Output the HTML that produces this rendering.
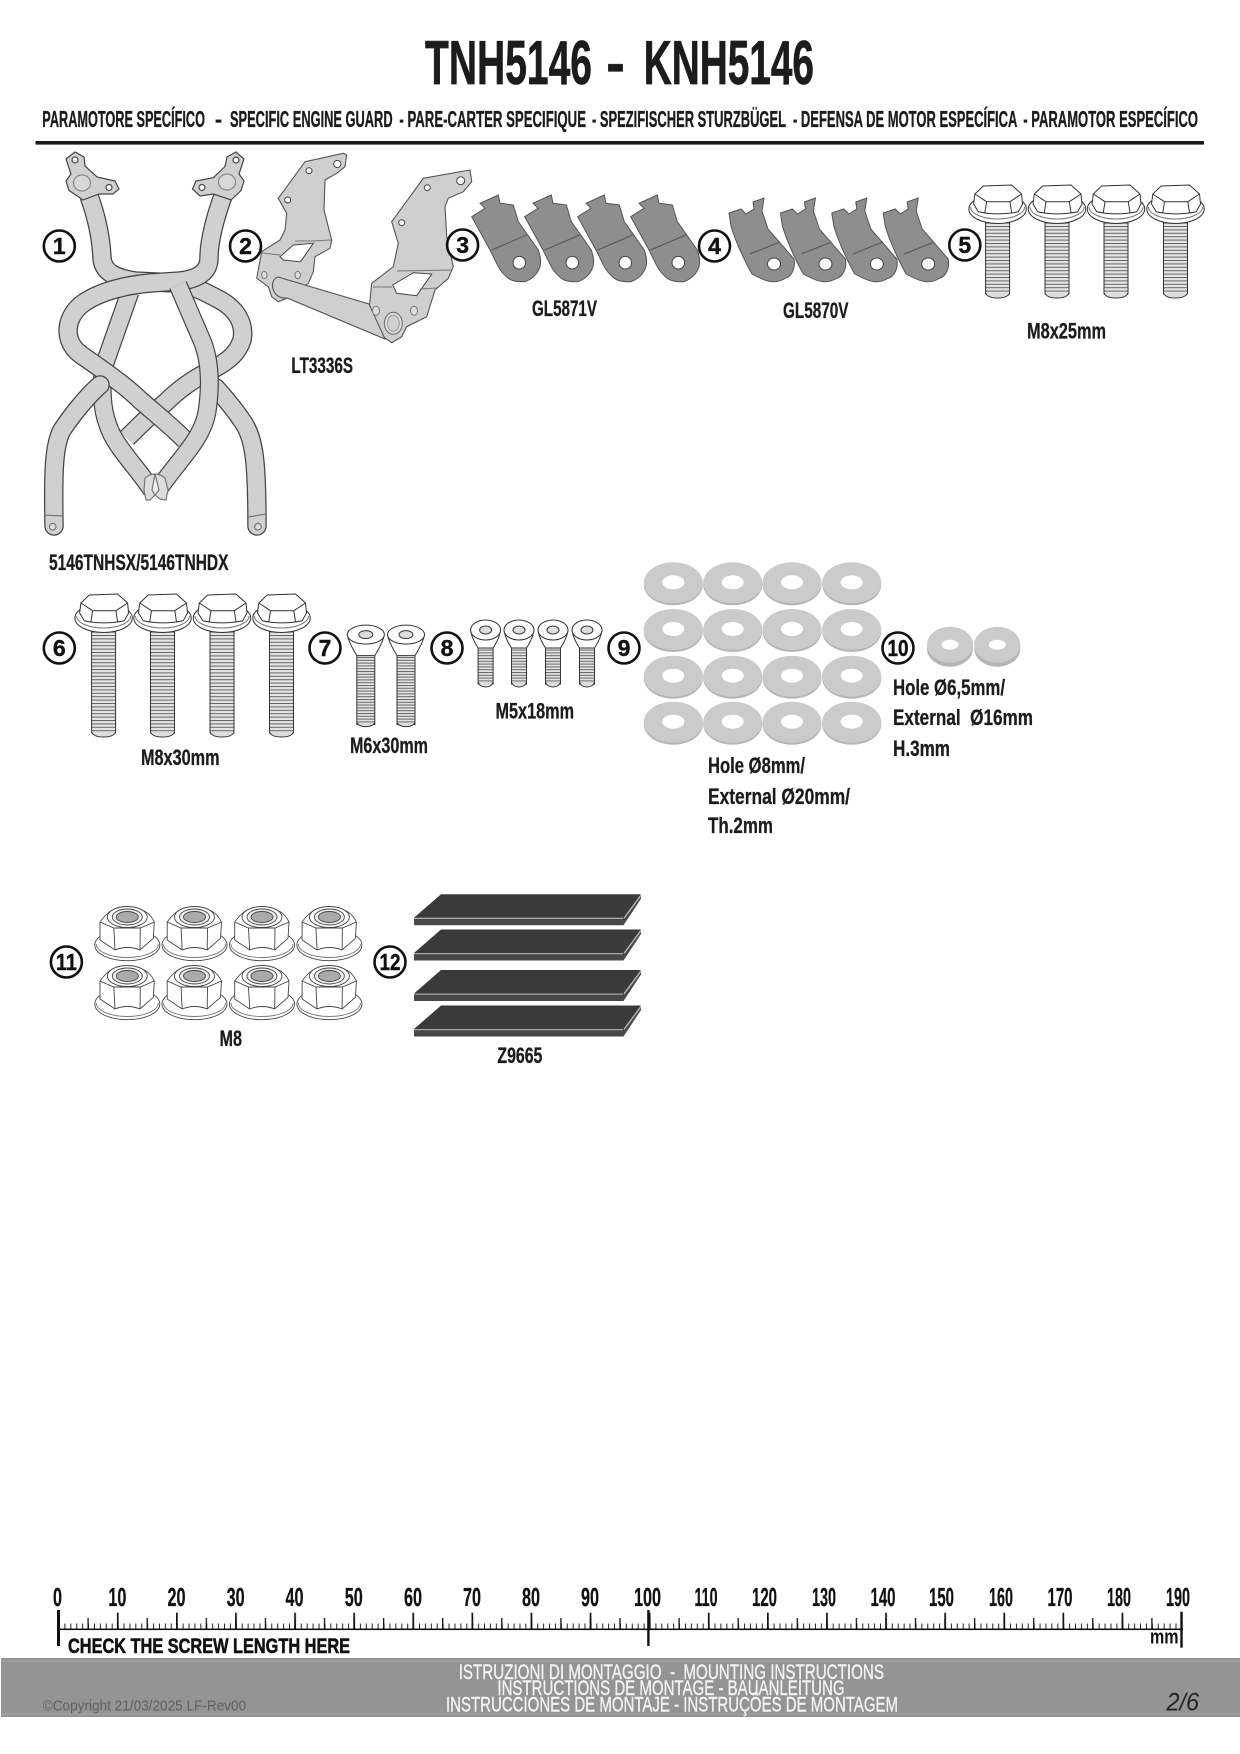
<!DOCTYPE html>
<html><head><meta charset="utf-8"><style>
html,body{margin:0;padding:0;background:#fff}
svg{display:block}
text{font-family:"Liberation Sans",sans-serif}
.b{font-weight:700;fill:#1c1c1c;stroke:#1c1c1c;stroke-width:.35}
.l{font-weight:700;font-size:22px;fill:#1c1c1c;stroke:#1c1c1c;stroke-width:.3}
.n{font-weight:700;font-size:23px;fill:#111;text-anchor:middle;stroke:#111;stroke-width:.4}
.r{font-weight:700;font-size:26px;fill:#111;text-anchor:middle;stroke:#111;stroke-width:.3}
.w{font-size:21px;fill:#f2f2f2;stroke:#f2f2f2;stroke-width:.4}
</style></head><body>
<svg xmlns="http://www.w3.org/2000/svg" width="1240" height="1754" viewBox="0 0 1240 1754">
<defs>
<pattern id="th" width="10" height="3.4" patternUnits="userSpaceOnUse"><rect width="10" height="3.4" fill="#e4e4e4"/><rect y="0" width="10" height="1" fill="#666"/></pattern>
<pattern id="th2" width="10" height="2.8" patternUnits="userSpaceOnUse"><rect width="10" height="2.8" fill="#e4e4e4"/><rect y="0" width="10" height="1" fill="#666"/></pattern>
<pattern id="m1" x="58.5" width="5.91" height="40" patternUnits="userSpaceOnUse"><rect width="1" height="40" fill="#222"/></pattern>
<pattern id="m5" x="57.9" width="29.55" height="40" patternUnits="userSpaceOnUse"><rect width="1.3" height="40" fill="#111"/></pattern>
<pattern id="m10" x="57.8" width="59.1" height="40" patternUnits="userSpaceOnUse"><rect width="1.7" height="40" fill="#111"/></pattern>

<g id="boltHead" fill="#fff" stroke="#333" stroke-width="1">
<ellipse cx="0" cy="0" rx="28.7" ry="14.5"/>
<path d="M-27-2A27 12 0 0 0 27-2" fill="none" stroke="#777"/>
<path d="M-22.7-15-14.3-23 14-24 24-15 25-5 20.7 2.7Q0 7-19.3 2.7L-24-5Z"/>
<path d="M-22.7-15-11-7.3 12.3-7.3 24-15M-11-7.3-12.7 3.7M12.3-7.3 14 3.7" fill="none"/>
</g>
<g id="b25"><rect x="-12" y="12" width="24" height="74" rx="2" fill="url(#th)" stroke="#333"/><path d="M-12 84Q-10 89 0 89Q10 89 12 84" fill="#ddd" stroke="#333"/><use href="#boltHead"/></g>
<g id="b30"><rect x="-12" y="12" width="24" height="104" rx="2" fill="url(#th)" stroke="#333"/><path d="M-12 114Q-10 119 0 119Q10 119 12 114" fill="#ddd" stroke="#333"/><use href="#boltHead"/></g>
<g id="b6"><rect x="-9" y="20" width="18" height="70" fill="url(#th2)" stroke="#333"/><path d="M-9 88Q-7 92 0 92Q7 92 9 88" fill="#ddd" stroke="#333"/>
<path d="M-18.5 0Q-17 8-9 21L9 21Q17 8 18.5 0Z" fill="#fff" stroke="#333"/><ellipse cy="0" rx="18.5" ry="9.5" fill="#fff" stroke="#333"/><ellipse cy="0" rx="7" ry="4" fill="#ddd" stroke="#333"/></g>
<g id="b5"><rect x="-7.5" y="17" width="15" height="37" fill="url(#th2)" stroke="#333"/><path d="M-7.5 52Q-6 57 0 57Q6 57 7.5 52" fill="#ddd" stroke="#333"/>
<path d="M-15 0Q-14 8-7.5 18L7.5 18Q14 8 15 0Z" fill="#fff" stroke="#333"/><ellipse rx="15" ry="10" fill="#fff" stroke="#333"/><ellipse rx="6" ry="4" fill="#ddd" stroke="#333"/></g>

<g id="w9"><ellipse cy="1.5" rx="29.5" ry="20.5" fill="#b5b5b5"/><ellipse cy="-0.5" rx="29.5" ry="20.5" fill="#cbcbcb"/><ellipse cy="-1" rx="11" ry="7" fill="#fff"/></g>
<g id="w10"><ellipse cy="2" rx="23" ry="18" fill="#b5b5b5"/><ellipse cy="-2" rx="23" ry="18" fill="#cbcbcb"/><ellipse cy="-2" rx="8.5" ry="5" fill="#fff"/></g>

<g id="nut" fill="#fff" stroke="#444" stroke-width=".9">
<ellipse rx="32.5" ry="15.7"/>
<path d="M-31-1A31 13.5 0 0 0 31-1" fill="none" stroke="#777"/>
<path d="M-27.3-23Q-20-33-14-35L14-35Q22-33 27-23L26-6.7 12.7 5Q0 0-12.3 5L-27.3-5Z"/>
<path d="M-27.3-23-13.5-17 13-17 27-23M-13.5-17-12.3 5M13-17 12.7 5" fill="none"/>
<ellipse cy="-28" rx="20" ry="10.5"/><ellipse cy="-28" rx="15" ry="8" fill="#eee"/><ellipse cy="-28" rx="11" ry="5.5" fill="#aaa"/>
</g>

<g id="c3"><path d="M471.7 216.7 485 208.3 480 203.3 498.3 195 500 203.3 513.3 205 518.3 221.7 538.3 250C541 258 541 262 540 266.7 537 275 532 279 525 281.7 518 282 512 281 508.3 278.3 503 274 500 270 498.3 266.7L490 250Z" fill="#8e8e8e" stroke="#555"/><path d="M491.7 250 526.7 235" stroke="#555" fill="none"/><circle cx="519.3" cy="262.7" r="6.3" fill="#fff" stroke="#444"/></g>
<g id="c4"><path d="M729 213 741 209 746 214 754 209 753 202 764 198 762 211 768 229 794 259C796 270 790 277 786 278 776 284 768 283 752 274 745 262 735 240 731 226Z" fill="#8e8e8e" stroke="#555"/><path d="M750 254 780 242" stroke="#555" fill="none"/><ellipse cx="774" cy="264" rx="6.5" ry="6" fill="#fff" stroke="#444"/></g>

<g id="pad"><path d="M414 23.5 441 0 641 0 623.5 23.5Z" fill="#3a3a3a"/><path d="M414 23.5 623.5 23.5 641 1 641 4.5 623.5 31 414 31Z" fill="#484848"/><rect x="414" y="23.5" width="209" height="1.2" fill="#aaa"/><path d="M624 24 641 1" stroke="#bbb" stroke-width="1.2"/></g>

<path id="t1" d="M89 196C96 215 101 235 102 258C103 272 115 278 135 281L175 283C190 284 205 292 220 300C238 310 245 325 242 340C238 352 230 360 215 368C195 378 180 388 165 403C150 415 140 425 127 438"/>
<path id="t2" d="M130 292L105 363C100 385 102 410 108 425C114 445 135 465 152 490"/>
<path id="t3" d="M216 388C225 398 235 410 243 422C254 438 257 460 257 526" stroke-linecap="round"/>
<path id="t4" d="M223 196C216 215 209 240 209 258C209 272 198 279 180 281L150 283C125 285 100 292 85 302C65 315 62 340 80 354C100 368 125 385 140 400C155 413 170 425 185 440"/>
<path id="t5" d="M100 385C88 395 72 415 62 430C54 445 53 470 54 526" stroke-linecap="round"/>
<path id="t6" d="M178 285L203 343C210 362 211 385 207 412C202 440 180 458 158 490"/>
</defs>

<rect width="1240" height="1754" fill="#fff"/>

<!-- header -->
<text class="b" x="425" y="84" font-size="62.5" textLength="167" lengthAdjust="spacingAndGlyphs" style="stroke-width:.7">TNH5146</text>
<text class="b" x="606" y="84" font-size="62.5" textLength="19" lengthAdjust="spacingAndGlyphs">-</text>
<text class="b" x="643.7" y="84" font-size="62.5" textLength="170.3" lengthAdjust="spacingAndGlyphs" style="stroke-width:.7">KNH5146</text>
<g font-size="23.5">
<text class="b" x="42.3" y="127" textLength="162.7" lengthAdjust="spacingAndGlyphs">PARAMOTORE SPECÍFICO</text>
<text class="b" x="215" y="127" textLength="7" lengthAdjust="spacingAndGlyphs">-</text>
<text class="b" x="230" y="127" textLength="162.6" lengthAdjust="spacingAndGlyphs">SPECIFIC ENGINE GUARD</text>
<text class="b" x="399.4" y="127" textLength="186.6" lengthAdjust="spacingAndGlyphs">- PARE-CARTER SPECIFIQUE</text>
<text class="b" x="592" y="127" textLength="194" lengthAdjust="spacingAndGlyphs">- SPEZIFISCHER STURZBÜGEL</text>
<text class="b" x="793" y="127" textLength="224.4" lengthAdjust="spacingAndGlyphs">- DEFENSA DE MOTOR ESPECÍFICA</text>
<text class="b" x="1023.3" y="127" textLength="174.7" lengthAdjust="spacingAndGlyphs">- PARAMOTOR ESPECÍFICO</text>
</g>
<rect x="35.5" y="141" width="1168.5" height="3.6" fill="#1a1a1a"/>

<!-- frame 1 -->
<g fill="none">
<g stroke="#444" stroke-width="19"><use href="#t2"/></g><g stroke="#d0d0d0" stroke-width="16.6"><use href="#t2"/></g>
<g stroke="#444" stroke-width="19.5"><use href="#t1"/></g><g stroke="#d0d0d0" stroke-width="17"><use href="#t1"/></g>
<g stroke="#444" stroke-width="19.5"><use href="#t3"/></g><g stroke="#d0d0d0" stroke-width="17"><use href="#t3"/></g>
<g stroke="#444" stroke-width="19.5"><use href="#t4"/></g><g stroke="#d0d0d0" stroke-width="17"><use href="#t4"/></g>
<g stroke="#444" stroke-width="19.5"><use href="#t5"/></g><g stroke="#d0d0d0" stroke-width="17"><use href="#t5"/></g>
<g stroke="#444" stroke-width="19"><use href="#t6"/></g><g stroke="#d0d0d0" stroke-width="16.6"><use href="#t6"/></g>
</g>
<g fill="#d0d0d0" stroke="#444" stroke-width="1.2">
<path d="M66 159 75 152 84 157 85 166 97 177 115 181 119 189 113 194 99 194 83 200 69 190.5 66 181 71 174Z"/>
<path d="M244 159 236 152 227 157 225 166.5 213.5 177.6 196 181 192.5 189 200 196 213.5 194 231 200 241 190.5 244 181 239 174Z"/>
<ellipse cx="82" cy="183" rx="8.5" ry="8" fill="#d8d8d8" stroke="#888"/><ellipse cx="227" cy="182" rx="8.5" ry="8" fill="#d8d8d8" stroke="#888"/>
<circle cx="75" cy="160" r="3" fill="#fff"/><circle cx="236" cy="160" r="3" fill="#fff"/><circle cx="109" cy="187.5" r="3" fill="#fff"/><circle cx="202" cy="187.5" r="3" fill="#fff"/>
<path d="M145 478Q155 470 165 478L168 490 166 500 160 499 155 495 150 500 146 500 144 490Z" fill="#ddd" stroke="#777"/><path d="M155 474 152 490 155 495 159 490Z" fill="#eee" stroke="#777"/>
<circle cx="52.7" cy="526.7" r="3.3" fill="#ddd" stroke="#777"/><circle cx="258" cy="526.7" r="3.3" fill="#ddd" stroke="#777"/>
<path d="M44 515 62 516M248 517 266 514" fill="none" stroke="#777"/>
</g>
<text class="l" x="49" y="570" textLength="179.5" lengthAdjust="spacingAndGlyphs">5146TNHSX/5146TNHDX</text>

<!-- bracket 2 -->
<g fill="#cfcfcf" stroke="#555" stroke-width="1.1">
<path d="M343.3 153.3 346.7 155 345 166.7 336.7 173.3 325 180 324 210 331.7 240 330 248.3 315 256.7 313.3 271.7 308.3 283.3 286.7 298.3 278.3 301.7 271.7 296.7 268.3 286.7 256.7 278.3 261.7 251.7 280 240 285 230 286.7 213.3 278.3 198.3 305 161.7Z"/>
<path d="M470 170 471.7 181.7 463.3 191.7 448.3 198.3 445 206.7 446.7 236.7 453.3 266.7 448.3 278.3 435 290 426.7 316.7 406.7 326.7 401.7 336.7 391.7 342.7 383.3 336.7 368.3 316.7 371.7 283.3 393.3 266.7 398.3 243.3 391.7 221.7 423.3 178.3Z"/>
<path d="M278 277 369 304 385 339 287 298C272 300 268 280 278 277Z"/>
</g>
<g fill="#fff" stroke="#444">
<circle cx="309" cy="170.7" r="3"/><circle cx="337.3" cy="164" r="3.6"/><circle cx="287.7" cy="200" r="3"/>
<circle cx="460.7" cy="180.7" r="4"/><circle cx="427.3" cy="187.7" r="3"/><circle cx="401.7" cy="222.7" r="3"/>
<path d="M280 256.7 293.3 245 313.3 243.3 301.7 260 300 261.7 283.3 260Z"/><path d="M392.7 285 413.3 272.7 431.7 274 418.3 293.3 416.7 295.7 396.7 293.3Z"/>
<ellipse cx="264.3" cy="275" rx="2.7" ry="3.6" fill="#ddd" stroke="#777"/><ellipse cx="297.7" cy="275" rx="2.7" ry="3.6" fill="#ddd" stroke="#777"/>
<ellipse cx="376" cy="310.7" rx="3.5" ry="4.5" fill="#ddd" stroke="#777"/><ellipse cx="414" cy="310.7" rx="3.5" ry="4.5" fill="#ddd" stroke="#777"/>
<ellipse cx="393.3" cy="323.3" rx="9" ry="11" fill="#ddd" stroke="#666"/><ellipse cx="393.3" cy="323.3" rx="6" ry="8" fill="#cfcfcf" stroke="#999"/>
</g>
<path d="M262 253 280 255M313 241 331 240M295 241 313 241M373 287 392 287M397 271 451 270M420 289 437 288" fill="none" stroke="#777"/>
<text class="l" x="291.4" y="373" textLength="61.6" lengthAdjust="spacingAndGlyphs">LT3336S</text>

<!-- clips -->
<use href="#c3"/><use href="#c3" x="53"/><use href="#c3" x="106"/><use href="#c3" x="159"/>
<use href="#c4"/><use href="#c4" x="51.4"/><use href="#c4" x="102.8"/><use href="#c4" x="154.2"/>
<text class="l" x="532" y="316" textLength="65" lengthAdjust="spacingAndGlyphs">GL5871V</text>
<text class="l" x="783" y="318" textLength="65.5" lengthAdjust="spacingAndGlyphs">GL5870V</text>

<!-- bolts -->
<use href="#b25" x="997.6" y="209"/><use href="#b25" x="1057" y="209"/><use href="#b25" x="1116" y="209"/><use href="#b25" x="1175.5" y="209"/>
<text class="l" x="1027" y="338.5" textLength="79" lengthAdjust="spacingAndGlyphs">M8x25mm</text>
<use href="#b30" x="103.6" y="618"/><use href="#b30" x="162.5" y="618"/><use href="#b30" x="222" y="618"/><use href="#b30" x="281.5" y="618"/>
<text class="l" x="141" y="765" textLength="78.5" lengthAdjust="spacingAndGlyphs">M8x30mm</text>
<use href="#b6" x="365.8" y="634.6"/><use href="#b6" x="406" y="634.6"/>
<text class="l" x="350" y="753" textLength="78" lengthAdjust="spacingAndGlyphs">M6x30mm</text>
<use href="#b5" x="485.6" y="630"/><use href="#b5" x="519" y="630"/><use href="#b5" x="553" y="630"/><use href="#b5" x="587" y="630"/>
<text class="l" x="495.5" y="718.5" textLength="78.5" lengthAdjust="spacingAndGlyphs">M5x18mm</text>

<!-- washers -->
<g>
<use href="#w9" x="673.3" y="583.3"/><use href="#w9" x="732.7" y="583.3"/><use href="#w9" x="792" y="583.3"/><use href="#w9" x="851.7" y="583.3"/>
<use href="#w9" x="673.3" y="630"/><use href="#w9" x="732.7" y="630"/><use href="#w9" x="792" y="630"/><use href="#w9" x="851.7" y="630"/>
<use href="#w9" x="673.3" y="676.7"/><use href="#w9" x="732.7" y="676.7"/><use href="#w9" x="792" y="676.7"/><use href="#w9" x="851.7" y="676.7"/>
<use href="#w9" x="673.3" y="722.7"/><use href="#w9" x="732.7" y="722.7"/><use href="#w9" x="792" y="722.7"/><use href="#w9" x="851.7" y="722.7"/>
<use href="#w10" x="950" y="646.7"/><use href="#w10" x="997.3" y="646.7"/>
</g>
<text class="l" x="708" y="773" textLength="97" lengthAdjust="spacingAndGlyphs">Hole Ø8mm/</text>
<text class="l" x="708" y="804" textLength="142" lengthAdjust="spacingAndGlyphs">External Ø20mm/</text>
<text class="l" x="708" y="833" textLength="65" lengthAdjust="spacingAndGlyphs">Th.2mm</text>
<text class="l" x="893" y="695" textLength="112" lengthAdjust="spacingAndGlyphs">Hole Ø6,5mm/</text>
<text class="l" x="893" y="725" textLength="140" lengthAdjust="spacingAndGlyphs" xml:space="preserve">External  Ø16mm</text>
<text class="l" x="893" y="756" textLength="57" lengthAdjust="spacingAndGlyphs">H.3mm</text>

<!-- nuts -->
<use href="#nut" x="127.3" y="945"/><use href="#nut" x="194.5" y="945"/><use href="#nut" x="262" y="945"/><use href="#nut" x="329.4" y="945"/>
<use href="#nut" x="127.3" y="1004"/><use href="#nut" x="194.5" y="1004"/><use href="#nut" x="262" y="1004"/><use href="#nut" x="329.4" y="1004"/>
<text class="l" x="219.5" y="1046" textLength="22.5" lengthAdjust="spacingAndGlyphs">M8</text>

<!-- pads -->
<use href="#pad" y="894.3"/><use href="#pad" y="929.5"/><use href="#pad" y="970"/><use href="#pad" y="1005.5"/>
<text class="l" x="497.4" y="1063" textLength="45" lengthAdjust="spacingAndGlyphs">Z9665</text>

<!-- number circles -->
<g fill="#fff" stroke="#111" stroke-width="2.6">
<circle cx="59.3" cy="246" r="15.5"/><circle cx="245.5" cy="246" r="15.5"/><circle cx="462.6" cy="245" r="15.5"/><circle cx="714.5" cy="246" r="15.5"/><circle cx="964.8" cy="245" r="15.5"/>
<circle cx="59.3" cy="648" r="15.5"/><circle cx="325" cy="648" r="15.5"/><circle cx="447" cy="648" r="15.5"/><circle cx="624" cy="648" r="15.5"/><circle cx="898" cy="648" r="15.5"/>
<circle cx="66.4" cy="962" r="15.5"/><circle cx="390" cy="962" r="15.5"/>
</g>
<text class="n" x="59.3" y="254">1</text><text class="n" x="245.5" y="254">2</text><text class="n" x="462.6" y="253">3</text><text class="n" x="714.5" y="254">4</text><text class="n" x="964.8" y="253">5</text>
<text class="n" x="59.3" y="656">6</text><text class="n" x="325" y="656">7</text><text class="n" x="447" y="656">8</text><text class="n" x="624" y="656">9</text>
<text class="n" x="898" y="656" textLength="21" lengthAdjust="spacingAndGlyphs">10</text>
<text class="n" x="66.4" y="970" textLength="21" lengthAdjust="spacingAndGlyphs">11</text>
<text class="n" x="390" y="970" textLength="21" lengthAdjust="spacingAndGlyphs">12</text>

<!-- ruler -->
<rect x="58.5" y="1623.5" width="1123" height="5" fill="url(#m1)"/>
<rect x="58" y="1618" width="1123" height="11" fill="url(#m5)"/>
<rect x="58" y="1612.7" width="1125" height="16" fill="url(#m10)"/>
<rect x="57" y="1628.5" width="1126" height="1.6" fill="#111"/>
<rect x="57" y="1610" width="3" height="36" fill="#111"/>
<rect x="647.2" y="1610" width="2.4" height="36" fill="#111"/>
<rect x="1180.3" y="1611.7" width="2.4" height="36" fill="#111"/>
<g>
<text class="r" x="57.5" y="1606" textLength="9" lengthAdjust="spacingAndGlyphs">0</text>
<text class="r" x="117.4" y="1606" textLength="18" lengthAdjust="spacingAndGlyphs">10</text>
<text class="r" x="176.5" y="1606" textLength="18" lengthAdjust="spacingAndGlyphs">20</text>
<text class="r" x="235.6" y="1606" textLength="18" lengthAdjust="spacingAndGlyphs">30</text>
<text class="r" x="294.5" y="1606" textLength="18" lengthAdjust="spacingAndGlyphs">40</text>
<text class="r" x="353.8" y="1606" textLength="18" lengthAdjust="spacingAndGlyphs">50</text>
<text class="r" x="413" y="1606" textLength="18" lengthAdjust="spacingAndGlyphs">60</text>
<text class="r" x="472" y="1606" textLength="18" lengthAdjust="spacingAndGlyphs">70</text>
<text class="r" x="531" y="1606" textLength="18" lengthAdjust="spacingAndGlyphs">80</text>
<text class="r" x="590" y="1606" textLength="18" lengthAdjust="spacingAndGlyphs">90</text>
<text class="r" x="647.5" y="1606" textLength="27" lengthAdjust="spacingAndGlyphs">100</text>
<text class="r" x="706" y="1606" textLength="23" lengthAdjust="spacingAndGlyphs">110</text>
<text class="r" x="764.5" y="1606" textLength="25" lengthAdjust="spacingAndGlyphs">120</text>
<text class="r" x="824" y="1606" textLength="24" lengthAdjust="spacingAndGlyphs">130</text>
<text class="r" x="883" y="1606" textLength="25" lengthAdjust="spacingAndGlyphs">140</text>
<text class="r" x="941.5" y="1606" textLength="25" lengthAdjust="spacingAndGlyphs">150</text>
<text class="r" x="1001" y="1606" textLength="24" lengthAdjust="spacingAndGlyphs">160</text>
<text class="r" x="1060" y="1606" textLength="25" lengthAdjust="spacingAndGlyphs">170</text>
<text class="r" x="1119" y="1606" textLength="24" lengthAdjust="spacingAndGlyphs">180</text>
<text class="r" x="1178" y="1606" textLength="24" lengthAdjust="spacingAndGlyphs">190</text>
</g>
<text x="68" y="1653" font-size="21.5" font-weight="700" fill="#111" stroke="#111" stroke-width=".6" textLength="282" lengthAdjust="spacingAndGlyphs">CHECK THE SCREW LENGTH HERE</text>
<text x="1150" y="1643.3" font-size="20" font-weight="700" fill="#111" textLength="28.5" lengthAdjust="spacingAndGlyphs">mm</text>

<!-- footer band -->
<rect x="1" y="1658" width="1239" height="59" fill="#949494"/>
<rect x="1" y="1660.5" width="1239" height="1" fill="#a6a6a6"/>
<rect x="1" y="1713.5" width="1239" height="1" fill="#a6a6a6"/>
<text class="w" x="458.7" y="1679" textLength="425.3" lengthAdjust="spacingAndGlyphs" xml:space="preserve">ISTRUZIONI DI MONTAGGIO  -  MOUNTING INSTRUCTIONS</text>
<text class="w" x="497.4" y="1695" textLength="347.2" lengthAdjust="spacingAndGlyphs">INSTRUCTIONS DE MONTAGE - BAUANLEITUNG</text>
<text class="w" x="446" y="1711.5" textLength="452" lengthAdjust="spacingAndGlyphs">INSTRUCCIONES DE MONTAJE - INSTRUÇÕES DE MONTAGEM</text>
<text x="42.7" y="1710.7" font-size="15" fill="#5f5f5f" textLength="203.5" lengthAdjust="spacingAndGlyphs">©Copyright 21/03/2025 LF-Rev00</text>
<text x="1166.5" y="1710.7" font-size="25" font-style="italic" fill="#222" textLength="32.5" lengthAdjust="spacingAndGlyphs">2/6</text>
</svg>
</body></html>
